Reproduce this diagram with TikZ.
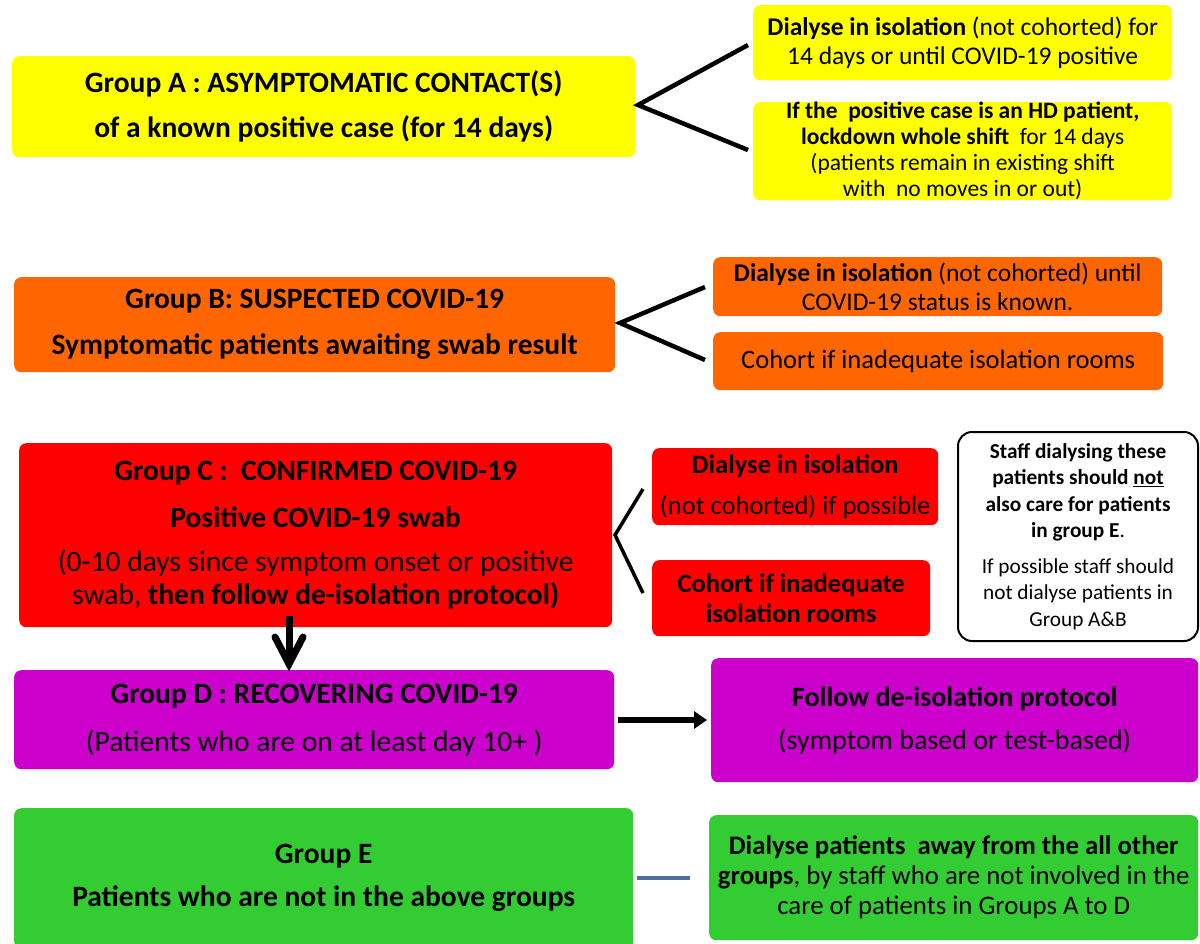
\documentclass[tikz,border=0pt]{standalone}
\usepackage{fontspec}
\setmainfont{Carlito}
\usetikzlibrary{arrows.meta,calc}
\definecolor{yel}{HTML}{FFFF00}
\definecolor{org}{HTML}{FF6600}
\definecolor{rd}{HTML}{FF0000}
\definecolor{mag}{HTML}{CC00CC}
\definecolor{grn}{HTML}{33CC33}
\definecolor{bluegray}{HTML}{4F6F9F}
\tikzset{
  box/.style={rounded corners=7pt, inner sep=0pt, align=center, anchor=north west},
  brk/.style={line width=4.5pt, black},
}
\newcommand{\fs}[2]{\fontsize{#1}{#2}\selectfont}
\begin{document}
\begin{tikzpicture}[x=1pt,y=1pt]
\useasboundingbox (0,0) rectangle (1200,-943);
% Group A
\node[box, fill=yel, minimum width=623pt, minimum height=101pt, font=\fs{29.5}{45}\bfseries] (A) at (12,-56)
  {Group A : ASYMPTOMATIC CONTACT(S)\\ of a known positive case (for 14 days)};
\node[box, fill=yel, minimum width=419pt, minimum height=75pt, font=\fs{25.5}{29}] (A1) at (753,-5)
  {\textbf{Dialyse in isolation} (not cohorted) for\\ 14 days or until COVID-19 positive};
\node[box, fill=yel, minimum width=419pt, minimum height=98pt, font=\fs{23.5}{26}] (A2) at (753,-102)
  {\textbf{If the\ \ positive case is an HD patient,}\\ \textbf{lockdown whole shift}\ \ for 14 days\\ (patients remain in existing shift\\ with\ \ no moves in or out)};
\coordinate (av) at (638,-105);
\coordinate (a1e) at (748,-45);
\coordinate (a2e) at (748,-150);
\draw[brk] (a1e) -- (av) -- (a2e);
% Group B
\node[box, fill=org, minimum width=601pt, minimum height=95pt, font=\fs{29.5}{46}\bfseries] (B) at (14,-277)
  {Group B: SUSPECTED COVID-19\\ Symptomatic patients awaiting swab result};
\node[box, fill=org, minimum width=449pt, minimum height=59pt, font=\fs{25.5}{29}] (B1) at (713,-257)
  {\textbf{Dialyse in isolation} (not cohorted) until\\ COVID-19 status is known.};
\node[box, fill=org, minimum width=450pt, minimum height=58pt, font=\fs{26.5}{29}] (B2) at (713,-332)
  {Cohort if inadequate isolation rooms};
\coordinate (bv) at (620,-323);
\coordinate (b1e) at (705,-287);
\coordinate (b2e) at (705,-360);
\draw[brk] (b1e) -- (bv) -- (b2e);
% Group C
\node[box, fill=rd, minimum width=593pt, minimum height=184pt, font=\fs{29.5}{33}] (C) at (19,-443)
  {\textbf{Group C :\ \ CONFIRMED COVID-19}\\[14pt]
   \textbf{Positive COVID-19 swab}\\[11pt]
   (0-10 days since symptom onset or positive\\
   swab, \textbf{then follow de-isolation protocol)}};
\node[box, fill=rd, minimum width=286pt, minimum height=77pt, font=\fs{26.5}{41}] (C1) at (652,-448)
  {\textbf{Dialyse in isolation}\\ (not cohorted) if possible};
\node[box, fill=rd, minimum width=278pt, minimum height=76pt, font=\fs{26.5}{30}\bfseries] (C2) at (652,-560)
  {Cohort if inadequate\\ isolation rooms};
\coordinate (cv) at (615,-535);
\coordinate (c1e) at (643,-489);
\coordinate (c2e) at (643,-593);
\draw[line width=3.5pt] (c1e) -- (cv) -- (c2e);
\node[box, draw=black, line width=2pt, fill=white, rounded corners=14pt, minimum width=240pt, minimum height=209pt, font=\fs{21.3}{26.5}] (S) at (957,-431)
  {\textbf{Staff dialysing these}\\ \textbf{patients should \underline{not}}\\ \textbf{also care for patients}\\ \textbf{in group E}.\\[9pt]
   If possible staff should\\ not dialyse patients in\\ Group A\&B};
% Group D
\node[box, fill=mag, minimum width=600pt, minimum height=99pt, font=\fs{29.5}{48}] (D) at (14,-670)
  {\textbf{Group D : RECOVERING COVID-19}\\ (Patients who are on at least day 10+ )};
\node[box, fill=mag, minimum width=487pt, minimum height=124pt, font=\fs{28}{43}] (D1) at (711,-658)
  {\textbf{Follow de-isolation protocol}\\ (symptom based or test-based)};
% arrow C -> D
\coordinate (cd0) at (289,-616);
\coordinate (cd1) at (289,-664);
\coordinate (cdl) at (275,-637);
\coordinate (cdr) at (303,-637);
\draw[line width=7pt] (cd0) -- ($(cd1)+(0,6)$);
\draw[line width=7pt, line cap=round, line join=miter] (cdl) -- (cd1) -- (cdr);
% arrow D -> D1
\coordinate (dd0) at (618,-720);
\coordinate (dd1) at (707,-720);
\draw[line width=5.5pt, -{Triangle[length=13pt,width=17pt]}] (dd0) -- (dd1);
% Group E
\node[box, fill=grn, minimum width=619pt, minimum height=140pt, font=\fs{29.5}{43}\bfseries] (E) at (14,-808)
  {Group E\\ Patients who are not in the above groups};
\node[box, fill=grn, minimum width=489pt, minimum height=125pt, font=\fs{26.8}{30}] (E1) at (709,-815)
  {\textbf{Dialyse patients\ \ away from the all other}\\ \textbf{groups}, by staff who are not involved in the\\ care of patients in Groups A to D};
\coordinate (ee0) at (637,-878);
\coordinate (ee1) at (690,-878);
\draw[line width=3.5pt, bluegray] (ee0) -- (ee1);
\end{tikzpicture}
\end{document}
